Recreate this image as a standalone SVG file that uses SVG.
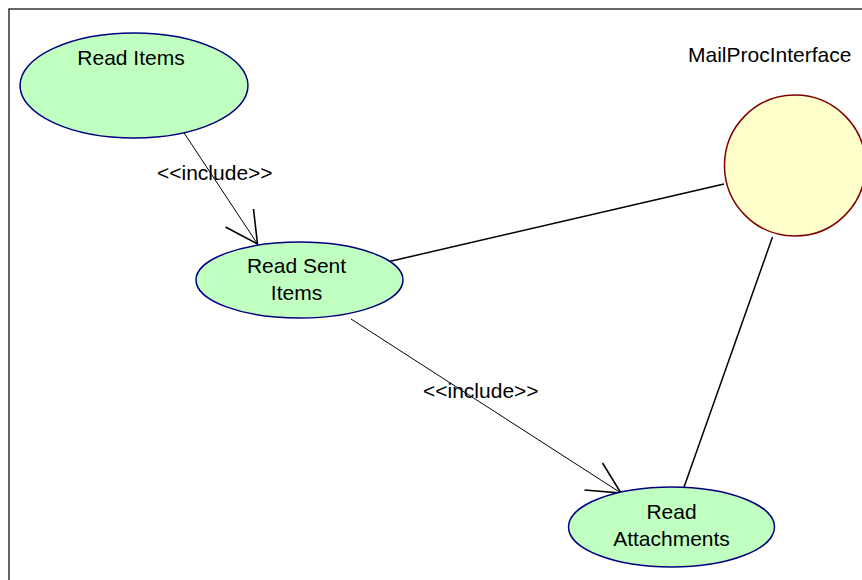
<svg xmlns="http://www.w3.org/2000/svg" width="862" height="580" viewBox="0 0 862 580">
  <style>
    text { font-family: "Liberation Sans", Arial, sans-serif; font-size: 21px; fill: #000; }
    .usecase { fill: #C0FFC0; stroke: #000080; stroke-width: 1.5; }
    .iface { fill: #FFFFCC; stroke: #800000; stroke-width: 1.5; }
    .dep { stroke: #000; stroke-width: 1; fill: none; }
    .head { stroke: #000; stroke-width: 1.6; fill: none; }
    .assoc { stroke: #000; stroke-width: 1.5; fill: none; }
  </style>
  <rect x="0" y="0" width="862" height="580" fill="#fff"/>
  <!-- diagram frame -->
  <rect x="9" y="9" width="900" height="700" fill="none" stroke="#333" stroke-width="1.5"/>

  <g id="connectors">
    <!-- include: Read Items -> Read Sent Items -->
    <line class="dep" x1="181.5" y1="129" x2="257.5" y2="244"/>
    <polyline class="head" points="225.5,227 257.5,244 253.5,209"/>
    <!-- include: Read Sent Items -> Read Attachments -->
    <line class="dep" x1="351" y1="319" x2="621" y2="493"/>
    <polyline class="head" points="602.5,463 621,493 584.5,490"/>
    <!-- associations with the interface -->
    <line class="assoc" x1="385" y1="262.5" x2="724" y2="184"/>
    <line class="assoc" x1="772.5" y1="237" x2="683" y2="490"/>
  </g>

  <g id="read-items">
    <ellipse class="usecase" cx="134" cy="85.5" rx="114" ry="52.5"/>
    <text x="131" y="65" text-anchor="middle">Read Items</text>
  </g>

  <g id="read-sent-items">
    <ellipse class="usecase" cx="299.5" cy="280" rx="103.5" ry="38"/>
    <text x="296.5" y="272.5" text-anchor="middle">Read Sent</text>
    <text x="296.5" y="299.5" text-anchor="middle">Items</text>
  </g>

  <g id="read-attachments">
    <ellipse class="usecase" cx="671.5" cy="527" rx="103" ry="40"/>
    <text x="671.5" y="518.5" text-anchor="middle">Read</text>
    <text x="671.5" y="545.5" text-anchor="middle">Attachments</text>
  </g>

  <g id="mail-proc-interface">
    <circle class="iface" cx="795" cy="165.5" r="70.5"/>
    <text x="688" y="62">MailProcInterface</text>
  </g>

  <g id="labels">
    <text x="157" y="180">&lt;&lt;include&gt;&gt;</text>
    <text x="423" y="397.5">&lt;&lt;include&gt;&gt;</text>
  </g>
</svg>
